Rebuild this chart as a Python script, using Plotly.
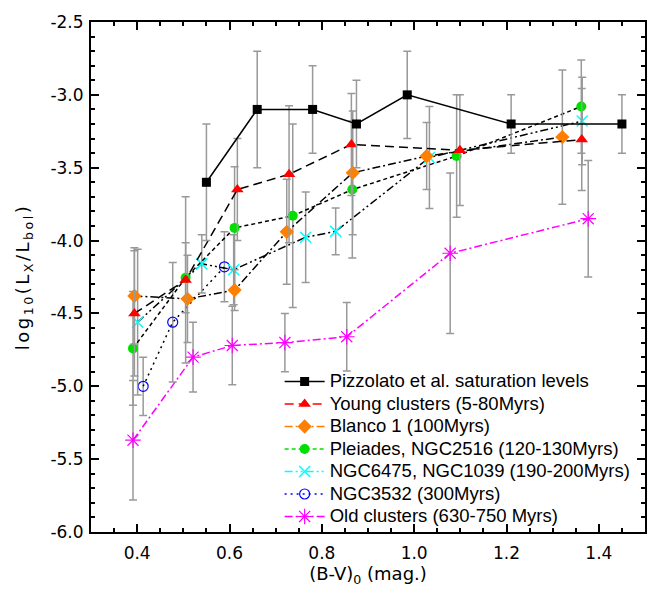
import plotly.graph_objects as go

# ---- data ----
piz_x = [0.55, 0.66, 0.78, 0.875, 0.985, 1.21, 1.45]
piz_y = [-3.6, -3.1, -3.1, -3.2, -3.0, -3.2, -3.2]
piz_e = [0.4, 0.4, 0.3, 0.3, 0.3, 0.2, 0.2]

young_x = [0.394, 0.505, 0.617, 0.729, 0.864, 1.099, 1.363]
young_y = [-4.5, -4.27, -3.65, -3.545, -3.34, -3.38, -3.307]
young_e = [0.43, 0.57, 0.35, 0.47, 0.35, 0.38, 0.35]

blanco_x = [0.394, 0.509, 0.611, 0.724, 0.867, 1.027, 1.321]
blanco_y = [-4.38, -4.40, -4.34, -3.94, -3.535, -3.42, -3.29]
blanco_e = [0.33, 0.30, 0.14, 0.36, 0.425, 0.23, 0.46]

pleiades_x = [0.391, 0.505, 0.611, 0.737, 0.866, 1.092, 1.362]
pleiades_y = [-4.74, -4.255, -3.913, -3.83, -3.65, -3.42, -3.08]
pleiades_e = [0.39, 0.24, 0.42, 0.63, 0.47, 0.42, 0.32]

ngc6475_x = [0.401, 0.540, 0.609, 0.765, 0.830, 1.033, 1.364]
ngc6475_y = [-4.56, -4.16, -4.20, -3.977, -3.937, -3.43, -3.18]
ngc6475_e = [0.50, 0.20, 0.24, 0.31, 0.16, 0.35, 0.30]

ngc3532_x = [0.413, 0.477, 0.589]
ngc3532_y = [-5.0, -4.56, -4.18]
ngc3532_e = [0.2, 0.41, 0.24]

old_x = [0.391, 0.521, 0.606, 0.720, 0.854, 1.078, 1.377]
old_y = [-5.37, -4.80, -4.72, -4.70, -4.66, -4.087, -3.85]
old_e = [0.41, 0.24, 0.27, 0.20, 0.235, 0.55, 0.40]

names = [
    "Pizzolato et al. saturation levels",
    "Young clusters (5-80Myrs)",
    "Blanco 1 (100Myrs)",
    "Pleiades, NGC2516 (120-130Myrs)",
    "NGC6475, NGC1039 (190-200Myrs)",
    "NGC3532 (300Myrs)",
    "Old clusters (630-750 Myrs)",
]

x_ticks = [0.4, 0.6, 0.8, 1.0, 1.2, 1.4]
x_ticktext = ["0.4", "0.6", "0.8", "1.0", "1.2", "1.4"]
y_ticks = [-2.5, -3.0, -3.5, -4.0, -4.5, -5.0, -5.5, -6.0]
y_ticktext = ["-2.5", "-3.0", "-3.5", "-4.0", "-4.5", "-5.0", "-5.5", "-6.0"]

# ---- styles ----
series = [
    (piz_x, piz_y, piz_e, "black", "solid", "black",
     dict(symbol="square", size=9, color="black")),
    (young_x, young_y, young_e, "black", "9px,5px", "red",
     dict(symbol="triangle-up", size=11, color="red")),
    (blanco_x, blanco_y, blanco_e, "black", "8px,3px,2px,3px", "#FF8000",
     dict(symbol="diamond", size=11, color="#FF8000")),
    (pleiades_x, pleiades_y, pleiades_e, "black", "4px,3px", "#00E000",
     dict(symbol="circle", size=10, color="#00E000")),
    (ngc6475_x, ngc6475_y, ngc6475_e, "black", "8px,3px,2px,3px,2px,3px", "cyan",
     dict(symbol="x-thin-open", size=11, color="cyan", line=dict(color="cyan", width=1.5))),
    (ngc3532_x, ngc3532_y, ngc3532_e, "black", "2px,4px", "blue",
     dict(symbol="circle-open", size=10, color="blue", line=dict(color="blue", width=1.2))),
    (old_x, old_y, old_e, "magenta", "8px,3px,2px,3px", "magenta",
     dict(symbol="asterisk-open", size=13, color="magenta", line=dict(color="magenta", width=1.2))),
]

FONT = "Arial, Liberation Sans"
WIDE = "DejaVu Sans"

fig = go.Figure()

# data traces (connectors drawn black with the series' dash style, as in the original)
order = [6, 5, 4, 3, 2, 1, 0]
for i in order:
    xs, ys, es, lc, dash, legc, mk = series[i]
    fig.add_trace(go.Scatter(
        x=xs, y=ys, mode="lines+markers",
        line=dict(color=lc, width=1.5, dash=dash),
        marker=mk,
        error_y=dict(type="data", array=es, visible=True, color="#999999",
                     thickness=1.5, width=4),
        showlegend=False, hoverinfo="skip",
    ))

# legend entries (coloured lines, as shown in the original legend)
for i, (xs, ys, es, lc, dash, legc, mk) in enumerate(series):
    fig.add_trace(go.Scatter(
        x=[None], y=[None], mode="lines+markers",
        name='<span style="font-size:18.5px">' + names[i] + '</span>',
        line=dict(color=legc, width=1.5, dash=dash),
        marker=mk, showlegend=True,
    ))

axis_common = dict(
    showline=True, linecolor="black", linewidth=2, mirror="ticks",
    ticks="inside", ticklen=8, tickwidth=2, tickcolor="black",
    showgrid=False, zeroline=False,
    tickfont=dict(family=WIDE, size=17, color="black"),
)

fig.update_xaxes(
    range=[0.3, 1.5], tickvals=x_ticks, ticktext=x_ticktext,
    minor=dict(dtick=0.05, tick0=0.3, ticks="inside", ticklen=4, tickwidth=1.5,
               tickcolor="black", showgrid=False),
    ticklabelstandoff=5,
    title=dict(text="(B-V)<sub>0</sub> (mag.)", standoff=4,
               font=dict(family=WIDE, size=18, color="black")),
    **axis_common,
)
fig.update_yaxes(
    range=[-6.0, -2.5], tickvals=y_ticks, ticktext=y_ticktext,
    minor=dict(dtick=0.1, tick0=-6.0, ticks="inside", ticklen=4, tickwidth=1.5,
               tickcolor="black", showgrid=False),
    ticklabelstandoff=2,
    title=dict(text='<span style="letter-spacing:2.5px">log<sub>10</sub>(L<sub>X</sub>/L<sub>bol</sub>)</span>',
               standoff=16,
               font=dict(family=WIDE, size=18, color="black")),
    **axis_common,
)

fig.update_layout(
    width=659, height=592,
    margin=dict(l=91, r=13, t=14, b=53),
    paper_bgcolor="white", plot_bgcolor="white",
    font=dict(family=FONT, size=16, color="black"),
    legend=dict(x=0.3405, y=0.327, xanchor="left", yanchor="top",
                bgcolor="rgba(0,0,0,0)", borderwidth=0,
                font=dict(family=FONT, size=15, color="black"),
                itemwidth=40, tracegroupgap=0),
)

fig.write_html("out.html")
